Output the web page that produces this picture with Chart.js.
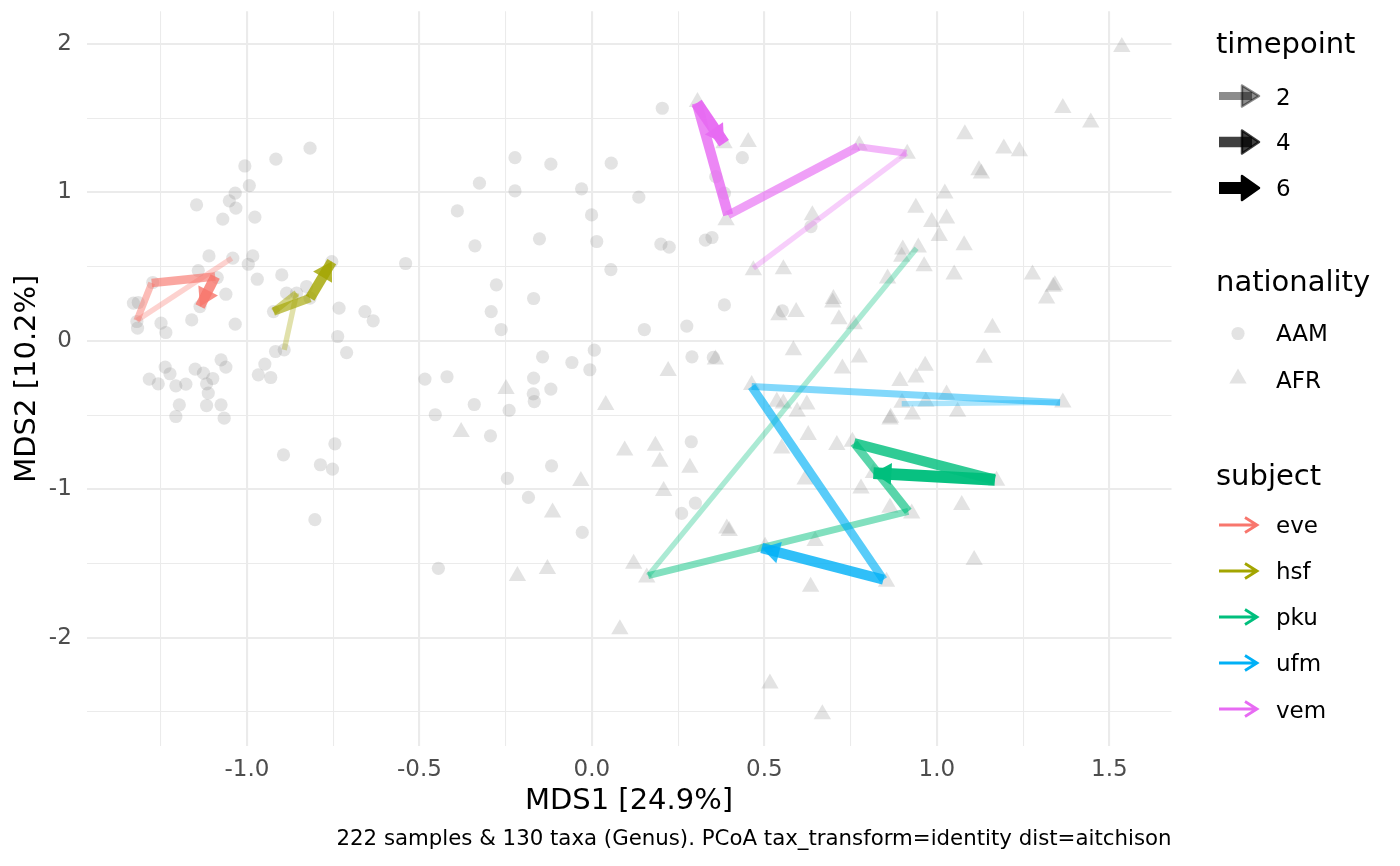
<!DOCTYPE html>
<html lang="en">
<head>
<meta charset="UTF-8">
<title>PCoA ordination - aitchison</title>
<script src="https://cdn.jsdelivr.net/npm/chart.js"></script>
<style>
  html, body { margin: 0; padding: 0; background: #fff; }
  body { width: 1400px; height: 866px; overflow: hidden; position: relative;
         font-family: "DejaVu Sans", sans-serif; }
  #pcoa { position: absolute; left: 0; top: 0; }
  /* legend on the right, plain html text */
  .lg { position: absolute; white-space: nowrap; line-height: 1; color: #000; }
  .lg-title { left: 1216px; font-size: 29px; }
  .lg-label { left: 1276px; font-size: 23px; }
  #keys { position: absolute; left: 1190px; top: 0; }
</style>
</head>
<body>

<canvas id="pcoa" width="1400" height="866" style="width:1400px;height:866px"></canvas>

<div class="lg lg-title" style="top:29px">timepoint</div>
<div class="lg lg-label" style="top:85.5px">2</div>
<div class="lg lg-label" style="top:131px">4</div>
<div class="lg lg-label" style="top:177px">6</div>

<div class="lg lg-title" style="top:267px">nationality</div>
<div class="lg lg-label" style="top:322px">AAM</div>
<div class="lg lg-label" style="top:369px">AFR</div>

<div class="lg lg-title" style="top:460.5px">subject</div>
<div class="lg lg-label" style="top:514px">eve</div>
<div class="lg lg-label" style="top:559.5px">hsf</div>
<div class="lg lg-label" style="top:605.5px">pku</div>
<div class="lg lg-label" style="top:652px">ufm</div>
<div class="lg lg-label" style="top:699px">vem</div>

<svg id="keys" width="210" height="866" xmlns="http://www.w3.org/2000/svg">
  <!-- timepoint keys -->
  <g>
    <line x1="29" y1="96" x2="62" y2="96" stroke="#000" stroke-opacity="0.45" stroke-width="8"/>
    <polygon points="52,85.5 69,96 52,106.5" fill="#000" fill-opacity="0.45" stroke="#000" stroke-opacity="0.45" stroke-width="2.5" stroke-linejoin="round"/>
    <line x1="29" y1="142" x2="62" y2="142" stroke="#000" stroke-opacity="0.75" stroke-width="10.5"/>
    <polygon points="52,130.5 69,142 52,153.5" fill="#000" fill-opacity="0.75" stroke="#000" stroke-opacity="0.75" stroke-width="2.5" stroke-linejoin="round"/>
    <line x1="29" y1="188" x2="62" y2="188" stroke="#000" stroke-width="12"/>
    <polygon points="52,176 69,188 52,200" fill="#000" stroke="#000" stroke-width="2.5" stroke-linejoin="round"/>
  </g>
  <!-- nationality keys -->
  <circle cx="48" cy="333.5" r="6.6" fill="rgb(128,128,128)" fill-opacity="0.22"/>
  <polygon points="48,368.5 56.66,383.5 39.34,383.5" fill="rgb(128,128,128)" fill-opacity="0.22"/>
  <!-- subject keys -->
  <g stroke-width="2.8" fill="none" stroke-linecap="butt">
    <path d="M29 525 H67 M55 517.5 L67 525 L55 532.5" stroke="#F8766D"/>
    <path d="M29 571 H67 M55 563.5 L67 571 L55 578.5" stroke="#A3A500"/>
    <path d="M29 617 H67 M55 609.5 L67 617 L55 624.5" stroke="#00BF7D"/>
    <path d="M29 663 H67 M55 655.5 L67 663 L55 670.5" stroke="#00B0F6"/>
    <path d="M29 709 H67 M55 701.5 L67 709 L55 716.5" stroke="#E76BF3"/>
  </g>
</svg>

<script>
    // ---- samples (MDS1 / MDS2) ----
    // nationality AAM (circles)
    const aamX = [-0.817,-0.916,-1.006,-0.993,-1.034,-1.051,-1.032,-1.146,-1.070,-0.977,
        -1.110,-1.041,-0.983,-0.996,-1.141,-1.086,-0.970,-0.899,-1.273,-1.329,
        -1.315,-1.061,-0.885,-0.827,-1.319,-1.317,-1.249,-1.235,-1.160,-1.034,
        -0.923,-0.733,-0.658,-0.634,-0.737,-0.711,-0.917,-0.892,-0.948,-0.967,
        -0.931,-1.075,-1.061,-1.237,-1.223,-1.283,-1.257,-1.206,-1.177,-1.150,
        -1.126,-1.099,-1.117,-1.112,-1.196,-1.117,-1.075,-1.206,-1.066,-0.745,
        -0.894,-0.787,-0.752,-0.803,
        0.204,-0.223,-0.119,0.056,-0.326,-0.223,-0.030,0.136,-0.390,-0.001,
        -0.152,0.014,0.200,0.224,0.329,0.348,-0.339,-0.540,0.055,-0.277,
        -0.169,0.384,-0.292,-0.263,0.152,0.275,-0.143,0.007,-0.058,-0.006,
        0.290,0.352,-0.484,-0.420,-0.169,-0.119,-0.170,-0.167,-0.341,-0.240,
        -0.454,-0.294,0.288,-0.117,-0.245,-0.184,0.260,0.300,-0.028,-0.445,
        0.436,0.359,0.384,0.635,0.552,
        -0.856,-0.817,-0.754,-1.136];
    const aamY = [1.298,1.224,1.178,1.046,0.995,0.943,0.894,0.916,0.820,0.833,
        0.572,0.557,0.572,0.516,0.473,0.426,0.415,0.444,0.393,0.254,
        0.258,0.314,0.321,0.366,0.130,0.086,0.119,0.056,0.141,0.112,
        0.197,0.220,0.197,0.135,0.029,-0.079,-0.072,-0.061,-0.157,-0.229,
        -0.247,-0.128,-0.177,-0.177,-0.222,-0.258,-0.290,-0.303,-0.292,-0.191,
        -0.218,-0.254,-0.290,-0.352,-0.431,-0.436,-0.431,-0.510,-0.521,-0.694,
        -0.768,-0.835,-0.864,-1.205,
        1.567,1.234,1.190,1.197,1.062,1.010,1.024,0.968,0.875,0.848,
        0.687,0.669,0.651,0.631,0.678,0.696,0.640,0.521,0.480,0.377,
        0.285,0.242,0.197,0.076,0.076,0.099,-0.108,-0.063,-0.146,-0.195,
        -0.108,-0.112,-0.258,-0.242,-0.251,-0.325,-0.357,-0.409,-0.429,-0.469,
        -0.498,-0.640,-0.680,-0.842,-0.927,-1.055,-1.163,-1.093,-1.291,-1.533,
        1.234,1.106,0.995,0.770,0.202,
        0.321,0.288,0.534,0.231];

    // nationality AFR (triangles)
    const afrX = [0.306,-0.249,0.221,0.358,0.040,-0.379,0.095,0.184,0.197,0.284,
        -0.032,0.208,-0.114,0.391,0.121,0.159,-0.216,-0.129,0.453,0.389,
        0.639,0.775,0.914,1.023,0.939,0.985,1.028,1.007,0.901,0.898,
        0.946,0.963,0.857,0.468,0.555,0.700,0.698,0.592,0.542,0.716,
        0.760,1.536,1.365,1.446,1.081,1.194,1.239,1.122,1.129,1.079,
        1.050,1.277,1.342,1.337,1.318,1.161,0.775,0.726,1.137,0.966,
        0.893,0.939,1.028,0.899,0.968,1.365,0.866,0.864,0.929,1.060,
        0.584,0.463,0.536,0.555,0.623,0.595,0.627,0.550,0.710,0.755,
        0.618,0.780,1.173,0.864,1.072,0.927,0.398,0.647,0.502,1.108,
        0.634,0.854,0.081,0.516,0.668,
        0.383,0.816];
    const afrY = [1.609,-0.325,-0.204,-0.126,-0.433,-0.615,-0.739,-0.707,-0.815,-0.855,
        -0.945,-1.012,-1.156,-1.264,-1.502,-1.594,-1.585,-1.537,1.340,0.813,
        0.846,1.318,1.261,0.992,0.896,0.801,0.824,0.707,0.615,0.566,
        0.628,0.503,0.420,0.476,0.483,0.281,0.258,0.195,0.173,0.146,
        0.112,1.980,1.569,1.470,1.392,1.295,1.277,1.149,1.127,0.644,
        0.446,0.446,0.375,0.364,0.285,0.088,-0.112,-0.187,-0.114,-0.168,
        -0.271,-0.247,-0.362,-0.418,-0.411,-0.415,-0.519,-0.530,-0.496,-0.478,
        -0.063,-0.298,-0.411,-0.422,-0.429,-0.478,-0.635,-0.725,-0.702,-0.680,
        -0.934,-0.995,-0.943,-1.125,-1.106,-1.163,-1.282,-1.349,-1.387,-1.477,
        -1.657,-1.623,-1.944,-2.308,-2.516,
        1.331,-0.891];

    // ---- subject trajectories, one sample per timepoint ----
    const eveX = [-1.044, -1.319, -1.276, -1.092, -1.136];
    const eveY = [0.557, 0.137, 0.389, 0.433, 0.231];
    const eveT = [1, 2, 3, 4, 5];
    const hsfX = [-0.892, -0.856, -0.923, -0.817, -0.754];
    const hsfY = [-0.061, 0.321, 0.197, 0.288, 0.534];
    const hsfT = [1, 2, 3, 4, 5];
    const pkuX = [0.941, 0.163, 0.917, 0.760, 1.168, 0.816];
    const pkuY = [0.624, -1.582, -1.149, -0.689, -0.936, -0.891];
    const pkuT = [1, 2, 3, 4, 5, 6];
    const ufmX = [0.898, 1.357, 0.463, 0.845, 0.492];
    const ufmY = [-0.424, -0.415, -0.308, -1.609, -1.396];
    const ufmT = [1, 2, 3, 4, 5];
    const vemX = [0.468, 0.912, 0.772, 0.395, 0.304, 0.383];
    const vemY = [0.490, 1.264, 1.308, 0.848, 1.601, 1.331];
    const vemT = [1, 2, 3, 4, 5, 6];

    // ---- axes ----
    const xTicks = [-1.25, -1, -0.75, -0.5, -0.25, 0, 0.25, 0.5, 0.75, 1, 1.25, 1.5];
    const xMajor = [-1, -0.5, 0, 0.5, 1, 1.5];
    const yTicks = [-2.5, -2, -1.5, -1, -0.5, 0, 0.5, 1, 1.5, 2];
    const yMajor = [-2, -1, 0, 1, 2];

    const caption = '222 samples & 130 taxa (Genus). PCoA tax_transform=identity dist=aitchison';

    const subjects = [
        { name: 'eve', rgb: [248, 118, 109], x: eveX, y: eveY, t: eveT },
        { name: 'hsf', rgb: [163, 165, 0], x: hsfX, y: hsfY, t: hsfT },
        { name: 'pku', rgb: [0, 191, 125], x: pkuX, y: pkuY, t: pkuT },
        { name: 'ufm', rgb: [0, 176, 246], x: ufmX, y: ufmY, t: ufmT },
        { name: 'vem', rgb: [231, 107, 243], x: vemX, y: vemY, t: vemT }
    ];

    // timepoint -> line width / opacity
    const widthOf = t => 3.8 + 1.6 * t;
    const alphaOf = t => Math.min(1, 0.17 + 0.16 * t);
    const rgba = (c, a) => `rgba(${c[0]},${c[1]},${c[2]},${a})`;

    const toPoints = (xs, ys) => xs.map((x, i) => ({ x: x, y: ys[i] }));
    const pointFill = 'rgba(128,128,128,0.22)';

    const datasets = [
        { label: 'AAM', data: toPoints(aamX, aamY), pointStyle: 'circle', pointRadius: 6.6,
          backgroundColor: pointFill, borderWidth: 0, order: 100 },
        { label: 'AFR', data: toPoints(afrX, afrY), pointStyle: 'triangle', pointRadius: 10,
          backgroundColor: pointFill, borderWidth: 0, order: 100 }
    ];

    // one dataset per path segment so width/alpha can follow the timepoint
    subjects.forEach(s => {
        for (let i = 0; i < s.x.length - 1; i++) {
            const t = s.t[i];
            datasets.push({
                label: s.name + ' ' + t,
                data: [{ x: s.x[i], y: s.y[i] }, { x: s.x[i + 1], y: s.y[i + 1] }],
                showLine: true,
                borderColor: rgba(s.rgb, alphaOf(t)),
                borderWidth: widthOf(t),
                borderCapStyle: 'butt',
                pointRadius: 0,
                order: 50 - t
            });
        }
    });

    // closed arrow heads at the last sample of every subject
    const arrowHeads = {
        id: 'arrowHeads',
        afterDatasetsDraw(chart) {
            const { ctx, scales } = chart;
            ctx.save();
            subjects.forEach(s => {
                const n = s.x.length;
                const x0 = scales.x.getPixelForValue(s.x[n - 2]);
                const y0 = scales.y.getPixelForValue(s.y[n - 2]);
                const x1 = scales.x.getPixelForValue(s.x[n - 1]);
                const y1 = scales.y.getPixelForValue(s.y[n - 1]);
                const a = Math.atan2(y1 - y0, x1 - x0);
                const len = 18, half = 11;
                const bx = x1 - len * Math.cos(a), by = y1 - len * Math.sin(a);
                ctx.beginPath();
                ctx.moveTo(x1, y1);
                ctx.lineTo(bx + half * Math.sin(a), by - half * Math.cos(a));
                ctx.lineTo(bx - half * Math.sin(a), by + half * Math.cos(a));
                ctx.closePath();
                ctx.fillStyle = rgba(s.rgb, alphaOf(s.t[n - 2]));
                ctx.fill();
            });
            ctx.restore();
        }
    };

    const gridColor = '#EBEBEB';

    Chart.defaults.font.family = "'DejaVu Sans', sans-serif";

    new Chart(document.getElementById('pcoa'), {
        type: 'scatter',
        data: { datasets: datasets },
        options: {
            responsive: false,
            animation: false,
            events: [],
            layout: { padding: { left: 10, right: 228.5, top: 11.3, bottom: 13.4 } },
            scales: {
                x: {
                    type: 'linear', min: -1.465, max: 1.68,
                    afterBuildTicks: scale => { scale.ticks = xTicks.map(v => ({ value: v })); },
                    afterFit: scale => {
                        scale.height = 72.4;
                        scale.paddingLeft = 0; scale.paddingRight = 0;
                    },
                    border: { display: false },
                    grid: {
                        color: gridColor, drawTicks: false,
                        lineWidth: c => (c.tick && xMajor.includes(c.tick.value)) ? 2.1 : 1.05
                    },
                    ticks: {
                        autoSkip: false, maxRotation: 0, padding: 10,
                        color: '#4D4D4D', font: { size: 23 },
                        callback: v => xMajor.includes(v) ? v.toFixed(1) : ''
                    },
                    title: {
                        display: true, text: 'MDS1 [24.9%]', color: '#000',
                        font: { size: 29 }, padding: { top: 0, bottom: 0 }
                    }
                },
                y: {
                    type: 'linear', min: -2.73, max: 2.22,
                    afterBuildTicks: scale => { scale.ticks = yTicks.map(v => ({ value: v })); },
                    afterFit: scale => {
                        scale.width = 76.5;
                        scale.paddingTop = 0; scale.paddingBottom = 0;
                    },
                    border: { display: false },
                    grid: {
                        color: gridColor, drawTicks: false,
                        lineWidth: c => (c.tick && yMajor.includes(c.tick.value)) ? 2.1 : 1.05
                    },
                    ticks: {
                        autoSkip: false, padding: 14.7,
                        color: '#4D4D4D', font: { size: 23 },
                        callback: v => yMajor.includes(v) ? String(v) : ''
                    },
                    title: {
                        display: true, text: 'MDS2 [10.2%]', color: '#000',
                        font: { size: 29 }, padding: { top: 0, bottom: 4 }
                    }
                }
            },
            plugins: {
                legend: { display: false },
                tooltip: { enabled: false },
                subtitle: {
                    display: true, position: 'bottom', align: 'end', text: caption,
                    color: '#000', font: { size: 21.3, weight: 'normal' },
                    padding: { top: 8.6, bottom: 0 }
                }
            }
        },
        plugins: [arrowHeads]
    });
</script>
</body>
</html>
